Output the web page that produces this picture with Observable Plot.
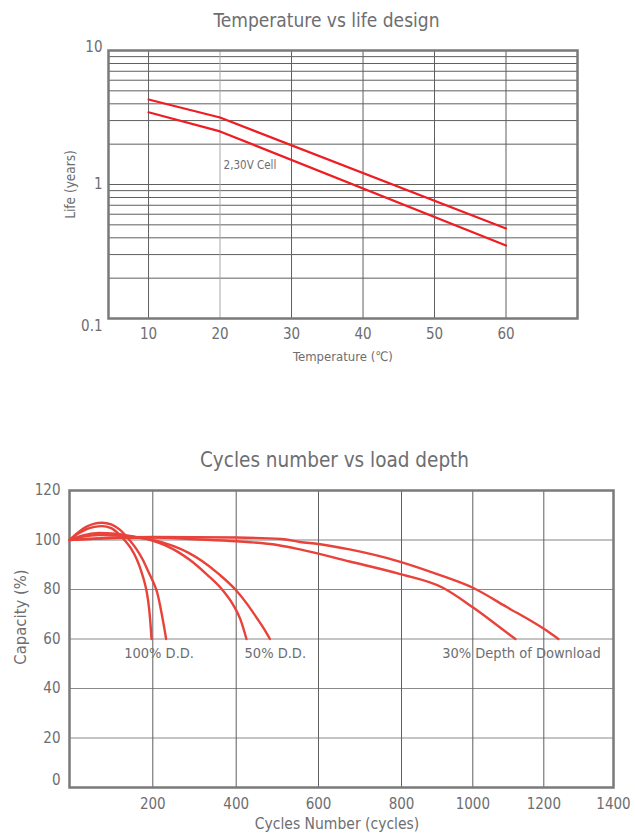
<!DOCTYPE html>
<html><head><meta charset="utf-8">
<script src="https://cdn.jsdelivr.net/npm/d3@7"></script>
<script src="https://cdn.jsdelivr.net/npm/@observablehq/plot@0.6"></script>
<style>
body{margin:0;background:#fff;width:635px;height:838px;position:relative;overflow:hidden;}
.t{position:absolute;width:635px;text-align:center;color:#6d6e71;font-family:"Liberation Sans Narrow","DejaVu Sans Condensed","Roboto Condensed",sans-serif;font-stretch:condensed;white-space:nowrap;}
#t1{top:9px;left:9px;font-size:19px;line-height:22px;}
#t2{top:448px;left:17px;font-size:20.5px;line-height:24px;}
#c1{position:absolute;left:0;top:30px;}
#c2{position:absolute;left:0;top:470px;}
</style></head><body>
<div class="t" id="t1">Temperature vs life design</div>
<div id="c1"></div>
<div class="t" id="t2">Cycles number vs load depth</div>
<div id="c2"></div>
<script>
// ---------- Chart 1: Temperature vs life ----------
const tempTicks = [10, 20, 30, 40, 50, 60];
const lifeTickMid = [1, 5];
const lifeGrid = [0.2, 0.3, 0.4, 0.5, 0.6, 0.7, 0.8, 0.9, 1, 2, 3, 4, 5, 6, 7, 8, 9];
const upperTemp = [10, 20, 60];
const upperLife = [4.31, 3.16, 0.47];
const lowerTemp = [10, 20, 60];
const lowerLife = [3.46, 2.49, 0.35];
const cellLabel = ["2,30V Cell"];
const cellLabelTemp = [20.5];
const cellLabelLife = [1.39];

// ---------- Chart 2: Cycles vs capacity ----------
const cycleTicks = [200, 400, 600, 800, 1000, 1200, 1400];
const capTicks = [20, 40, 60, 80, 100, 120];
const capGrid = [20, 40, 60, 80];
const dd100aCycles = [0, 20, 40, 60, 78, 100, 118, 132, 148, 162, 172, 180, 186, 191, 194.5, 197];
const dd100aCap    = [100, 102.5, 104.3, 105.3, 105.6, 104.8, 102.5, 100, 96.5, 92, 87.5, 83, 78.5, 72.5, 66, 60];
const dd100bCycles = [0, 20, 40, 60, 78, 100, 120, 144, 160, 176, 190, 201, 211, 221, 227, 232];
const dd100bCap    = [100, 103, 105.3, 106.6, 107, 106.3, 104.3, 100, 96.5, 92, 87, 83, 78.5, 70.5, 65, 60];
const dd50aCycles = [0, 30, 70, 110, 150, 195, 230, 262, 290, 330, 366, 392, 410, 425];
const dd50aCap    = [100, 101.8, 102.8, 102.5, 101.5, 100, 97.8, 95, 91.8, 86, 80, 74, 68, 60];
const dd50bCycles = [0, 30, 70, 110, 160, 200, 250, 286, 318, 360, 398, 425, 450, 468, 482];
const dd50bCap    = [100, 101.3, 102, 101.8, 101, 100, 97.5, 94.8, 91.5, 86, 80, 74.5, 68.5, 64, 60];
const dd30aCycles = [0, 100, 200, 300, 400, 500, 555, 675, 795, 916, 1000, 1060, 1120];
const dd30aCap    = [100, 100.8, 101, 100.3, 99.5, 98, 96.2, 91.3, 86.3, 80.7, 72.8, 66.5, 60];
const dd30bCycles = [0, 100, 200, 400, 510, 555, 600, 675, 795, 910, 1000, 1097, 1200, 1242];
const dd30bCap    = [100, 100.8, 101.2, 101, 100.4, 99.2, 98.4, 96.2, 91.3, 85.7, 80.7, 72.8, 64.1, 60];
const ddLabels = ["100% D.D.", "50% D.D.", "30% Depth of Download"];
const ddLabelCycles = [215, 495, 1137];
const ddLabelCap = [54.1, 54.1, 54.1];

const FONT = '"Liberation Sans Narrow","DejaVu Sans Condensed","Roboto Condensed",sans-serif';
const GREY = "#6d6e71";

const toRows = (xs, ys) => xs.map((x, i) => ({x, y: ys[i]}));

const p1 = Plot.plot({
  width: 635, height: 345,
  marginTop: 20, marginBottom: 57, marginLeft: 108, marginRight: 58,
  style: {fontFamily: FONT, color: GREY, background: "transparent", fontStretch: "condensed"},
  x: {domain: [4.4, 70]},
  y: {type: "log", domain: [0.1, 10]},
  marks: [
    Plot.ruleY(lifeGrid, {stroke: "#5f5f5f", strokeWidth: 1}),
    Plot.ruleX(tempTicks, {stroke: d => d === 20 ? "#a8a8a8" : "#5f5f5f", strokeWidth: 1}),
    Plot.frame({stroke: "#7a7a7a", strokeWidth: 2.5}),
    Plot.line(toRows(upperTemp, upperLife), {x: "x", y: "y", stroke: "#ee1d23", strokeWidth: 2.2}),
    Plot.line(toRows(lowerTemp, lowerLife), {x: "x", y: "y", stroke: "#ee1d23", strokeWidth: 2.2}),
    Plot.text(cellLabel, {x: cellLabelTemp, y: cellLabelLife, textAnchor: "start", fontSize: 11.5, fill: GREY}),
    Plot.axisX(tempTicks, {tickSize: 0, tickPadding: 10, fontSize: 15, label: null, fill: GREY}),
    Plot.axisY(lifeTickMid, {tickSize: 0, tickPadding: 6, fontSize: 15, label: null, fill: GREY}),
    Plot.axisY([10], {tickSize: 0, tickPadding: 6, fontSize: 15, label: null, fill: GREY, dy: -3}),
    Plot.axisY([0.1], {tickSize: 0, tickPadding: 6, fontSize: 15, label: null, fill: GREY, dy: 8, tickFormat: d => "0.1"}),
    Plot.text(["Temperature (℃)"], {frameAnchor: "bottom", dy: 42, fontSize: 13, fill: GREY}),
    Plot.text(["Life (years)"], {frameAnchor: "left", textAnchor: "middle", rotate: -90, dx: -38, fontSize: 13.5, fill: GREY})
  ]
});
document.getElementById("c1").appendChild(p1);

// The reference's cycle axis is not uniform: gridlines above 800 are closer together.
const cycleBreaks = [0, 200, 400, 600, 800, 1000, 1200, 1400];
const cycleWarpUnits = [69, 152.3, 235.7, 318, 401, 472.3, 543.3, 613];
const cycleWarp = d3.scaleLinear().domain(cycleBreaks).range(cycleWarpUnits);

const curveMark = (xs, ys) => Plot.line(toRows(xs, ys), {x: "x", y: "y", stroke: "#e8423a", strokeWidth: 2.4, curve: "monotone-x"});

const p2 = Plot.plot({
  width: 635, height: 368,
  marginTop: 20, marginBottom: 51, marginLeft: 69, marginRight: 22,
  style: {fontFamily: FONT, color: GREY, background: "transparent", fontStretch: "condensed"},
  x: {transform: cycleWarp, domain: [cycleWarpUnits[0], cycleWarpUnits[cycleWarpUnits.length - 1]]},
  y: {domain: [0, 120]},
  marks: [
    Plot.ruleY(capGrid, {stroke: "#8a8a8a", strokeWidth: 1.2}),
    Plot.ruleY([100], {stroke: "#adadad", strokeWidth: 1.6}),
    Plot.ruleX(cycleTicks.slice(0, 6), {stroke: "#5f5f5f", strokeWidth: 1}),
    Plot.frame({stroke: "#7a7a7a", strokeWidth: 2.5}),
    curveMark(dd100aCycles, dd100aCap),
    curveMark(dd100bCycles, dd100bCap),
    curveMark(dd50aCycles, dd50aCap),
    curveMark(dd50bCycles, dd50bCap),
    curveMark(dd30aCycles, dd30aCap),
    curveMark(dd30bCycles, dd30bCap),
    Plot.text(ddLabels, {x: ddLabelCycles, y: ddLabelCap, fontSize: 14.5, fill: GREY}),
    Plot.axisX(cycleTicks, {tickSize: 0, tickPadding: 11, fontSize: 15, label: null, fill: GREY, tickFormat: d => String(d)}),
    Plot.axisY(capTicks, {tickSize: 0, tickPadding: 9, fontSize: 15, label: null, fill: GREY}),
    Plot.axisY([0], {tickSize: 0, tickPadding: 9, fontSize: 15, label: null, fill: GREY, dy: -7}),
    Plot.text(["Cycles Number (cycles)"], {frameAnchor: "bottom", dy: 41, dx: -4.5, fontSize: 15.5, fill: GREY}),
    Plot.text(["Capacity (%)"], {frameAnchor: "left", textAnchor: "middle", rotate: -90, dx: -49, dy: -22, fontSize: 16.5, fill: GREY})
  ]
});
document.getElementById("c2").appendChild(p2);
</script>
</body></html>
